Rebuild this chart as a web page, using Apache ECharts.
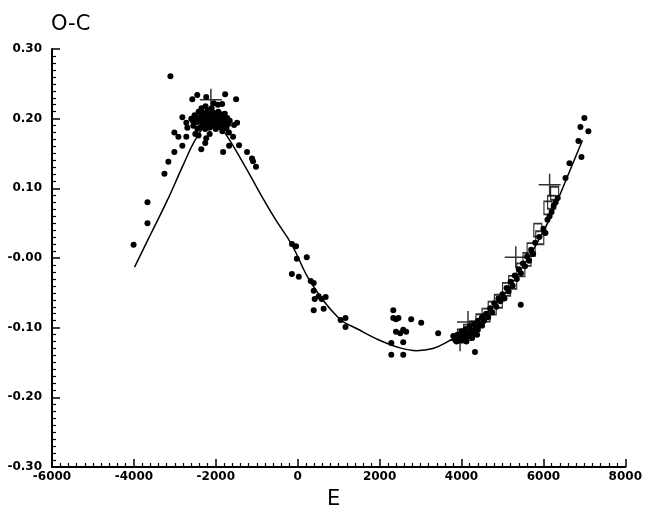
<!DOCTYPE html>
<html><head><meta charset="utf-8">
<script src="https://cdn.jsdelivr.net/npm/echarts@6/dist/echarts.min.js"></script>
<style>html,body{margin:0;padding:0;background:#fff}#c{width:645px;height:510px}</style>
</head><body><div id="c"></div>
<script>
// ---- tick labels ----
const xTickLabels = {'-6000':'-6000','-4000':'-4000','-2000':'-2000','0':'0','2000':'2000','4000':'4000','6000':'6000','8000':'8000'};
const yTickValues = [-0.3,-0.2,-0.1,0,0.1,0.2,0.3];
const yTickLabels = ['-0.30','-0.20','-0.10','-0.00','0.10','0.20','0.30'];

// ---- fitted curve (E, O-C) ----
const curveE  = [-3984,-3600,-3182,-2800,-2477,-2200,-2000,-1796,-1300,-824,-540,-143,311,1000,1500,2000,2500,2900,3300,3700,4000,4500,5007,5500,6000,6347,6650,6954];
const curveOC = [-0.013,0.033,0.083,0.133,0.172,0.191,0.192,0.181,0.133,0.083,0.055,0.019,-0.034,-0.086,-0.103,-0.118,-0.129,-0.133,-0.130,-0.119,-0.108,-0.085,-0.055,-0.012,0.038,0.083,0.126,0.169];

// ---- visual minima (dots) ----
const dotsEarly = [
[-4008,0.019],[-3668,0.050],[-3668,0.080],[-3255,0.121],[-3158,0.138],[-3012,0.152],[-2817,0.161],[-2914,0.174],[-3012,0.180],
[-2720,0.174],[-2817,0.202],[-2720,0.194],[-2696,0.187],[-3108,0.261],[-2453,0.234],[-2574,0.228],[-2234,0.231],[-1772,0.235],
[-1504,0.228],[-1845,0.221],[-2355,0.156],[-2234,0.172],[-2258,0.165],[-1821,0.152],[-1675,0.161],[-1578,0.174],[-1480,0.194],
[-1553,0.191],[-1432,0.162],[-1237,0.152],[-1116,0.143],[-1091,0.139],[-1019,0.131]
];
const dotsCluster = [
[-2600,0.200],[-2550,0.190],[-2520,0.205],[-2480,0.195],[-2450,0.185],[-2420,0.210],[-2400,0.198],[-2380,0.188],[-2350,0.203],
[-2330,0.193],[-2300,0.208],[-2280,0.198],[-2260,0.185],[-2240,0.202],[-2220,0.192],[-2200,0.212],[-2180,0.197],[-2160,0.187],
[-2140,0.205],[-2120,0.195],[-2100,0.215],[-2080,0.200],[-2060,0.190],[-2040,0.208],[-2020,0.196],[-2000,0.185],[-1980,0.203],
[-1960,0.193],[-1940,0.210],[-1920,0.199],[-1900,0.188],[-1880,0.204],[-1860,0.195],[-1840,0.182],[-1820,0.200],[-1800,0.190],
[-1780,0.207],[-1760,0.196],[-1740,0.186],[-1720,0.201],[-1700,0.192],[-1680,0.180],[-1660,0.197],[-2500,0.178],[-2420,0.176],
[-2150,0.178],[-2350,0.215],[-1950,0.220],[-2250,0.218],[-2050,0.222],[-2310,0.200],[-2190,0.205],[-2090,0.208],[-1990,0.198],
[-1890,0.196],[-2270,0.192],[-2130,0.188],[-2010,0.190],[-1910,0.207],[-1810,0.206],[-2370,0.196],[-2460,0.202],[-2560,0.197]
];
const dotsMiddle = [
[-140,0.020],[-40,0.017],[-22,-0.001],[221,0.001],[-143,-0.023],[27,-0.027],[318,-0.033],[391,-0.036],[391,-0.047],
[513,-0.055],[415,-0.059],[586,-0.059],[683,-0.056],[391,-0.075],[634,-0.073],[1048,-0.089],[1168,-0.086],[1168,-0.099],
[2334,-0.075],[2334,-0.086],[2400,-0.088],[2460,-0.086],[2772,-0.088],[3016,-0.093],[2577,-0.103],[2505,-0.108],[2650,-0.106],
[2400,-0.106],[2577,-0.121],[2286,-0.122],[2286,-0.139],[2577,-0.139],[3430,-0.108],[4329,-0.135],[5447,-0.067]
];
const dotsLate = [
[3800,-0.112],[3850,-0.118],[3900,-0.110],[3950,-0.115],[4000,-0.105],[4000,-0.118],[4050,-0.110],[4100,-0.102],[4100,-0.115],
[4150,-0.108],[4200,-0.098],[4200,-0.112],[4250,-0.104],[4300,-0.095],[4300,-0.108],[4350,-0.100],[4400,-0.090],[4400,-0.103],
[4450,-0.095],[4500,-0.085],[4500,-0.097],[4550,-0.090],[4600,-0.080],[4650,-0.085],[4700,-0.072],[4750,-0.078],[4800,-0.065],
[4850,-0.070],[4900,-0.058],[4950,-0.062],[5000,-0.052],[5050,-0.058],[5100,-0.043],[5150,-0.048],[5200,-0.034],[5250,-0.040],
[5300,-0.025],[5350,-0.030],[5400,-0.016],[5450,-0.022],[5500,-0.008],[5550,-0.012],[5600,0.002],[5650,-0.004],[5700,0.012],
[5750,0.006],[5800,0.022],[5900,0.030],[6000,0.042],[6050,0.036],[6100,0.055],[6150,0.060],[6200,0.066],[6250,0.075],
[6300,0.080],[6350,0.086],[7001,0.201],[6904,0.188],[7098,0.182],[6856,0.168],[6637,0.136],[6929,0.145],[6540,0.115],
[3880,-0.120],[4120,-0.120],[4260,-0.115],[4380,-0.110]
];
// ---- photoelectric minima (squares) ----
const squares = [
[4000,-0.112],[4150,-0.105],[4300,-0.100],[4450,-0.090],[4600,-0.082],[4900,-0.062],[5100,-0.045],[5449,-0.017],[5600,-0.002],
[5700,0.012],[5863,0.040],[5911,0.029],[6111,0.072],[6274,0.093],[6200,0.080],[4750,-0.072],[5250,-0.035]
];
// ---- crosses ----
const crosses = [[-2120,0.227],[3965,-0.118],[4159,-0.092],[5326,0.001],[6152,0.105]];

const chart = echarts.init(document.getElementById('c'), null, {renderer:'canvas'});
const labelFont = {color:'#000', fontFamily:'DejaVu Sans', fontWeight:'bold', fontSize:12};
function yFmt(v){ let best=0; for(let i=0;i<yTickValues.length;i++){ if(Math.abs(yTickValues[i]-v)<Math.abs(yTickValues[best]-v)) best=i; } return yTickLabels[best]; }
const dotStyle = {type:'scatter', symbol:'circle', symbolSize:6, itemStyle:{color:'#000', opacity:1}, silent:true, z:3};
chart.setOption({
  animation:false,
  backgroundColor:'#fff',
  title:[
    {text:'O-C', left:46, top:9, textStyle:{fontFamily:'DejaVu Sans', fontWeight:'normal', fontSize:21, color:'#000'}},
    {text:'E', left:322, top:484, textStyle:{fontFamily:'DejaVu Sans', fontWeight:'normal', fontSize:21, color:'#000'}}
  ],
  grid:{left:52, top:49, width:576, height:418, show:false},
  xAxis:{type:'value', min:-6000, max:8000, interval:2000,
    axisLine:{show:true, onZero:false, lineStyle:{color:'#000', width:2}},
    axisTick:{show:true, inside:true, length:8, lineStyle:{color:'#000', width:1.5}},
    minorTick:{show:true, splitNumber:10, length:4, lineStyle:{color:'#000', width:1.2}},
    splitLine:{show:false},
    axisLabel:Object.assign({margin:4, formatter:v=>xTickLabels[String(Math.round(v))]}, labelFont)},
  yAxis:{type:'value', min:-0.3, max:0.3, interval:0.1,
    axisLine:{show:true, onZero:false, lineStyle:{color:'#000', width:2}},
    axisTick:{show:true, inside:true, length:8, lineStyle:{color:'#000', width:1.5}},
    minorTick:{show:true, splitNumber:10, length:4, lineStyle:{color:'#000', width:1.2}},
    splitLine:{show:false},
    axisLabel:Object.assign({margin:10, formatter:yFmt}, labelFont)},
  series:[
    {type:'line', data:curveE.map((e,i)=>[e,curveOC[i]]), smooth:0.4, showSymbol:false, lineStyle:{color:'#000', width:1.5}, silent:true, z:2},
    Object.assign({data:dotsEarly}, dotStyle),
    Object.assign({data:dotsCluster}, dotStyle),
    Object.assign({data:dotsMiddle}, dotStyle),
    Object.assign({data:dotsLate}, dotStyle),
    {type:'scatter', data:squares, symbol:'rect', symbolSize:[8,13], itemStyle:{color:'rgba(0,0,0,0)', borderColor:'#000', borderWidth:1.5}, silent:true, z:4},
    {type:'scatter', data:crosses, symbol:'path://M10 0L10 20M0 10L20 10', symbolSize:22, itemStyle:{color:'rgba(0,0,0,0)', borderColor:'#000', borderWidth:1.5}, silent:true, z:5}
  ]
});
</script></body></html>
